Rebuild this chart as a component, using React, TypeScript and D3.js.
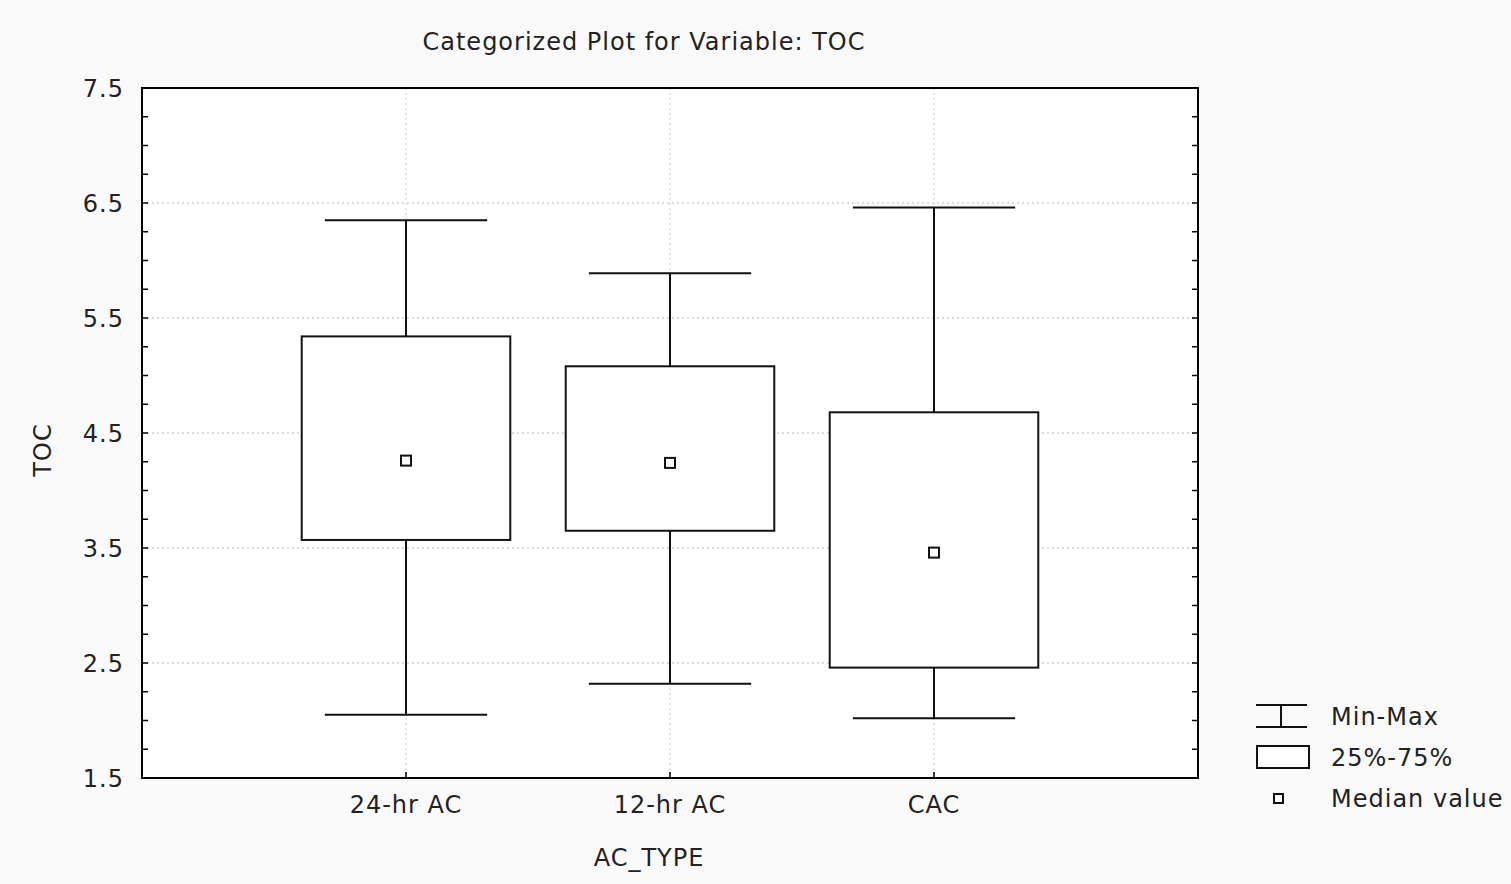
import React from "react";
import * as d3 from "d3";

const categories = ["24-hr AC", "12-hr AC", "CAC"];
const minValues = [2.05, 2.32, 2.02];
const q1Values = [3.57, 3.65, 2.46];
const medianValues = [4.26, 4.24, 3.46];
const q3Values = [5.34, 5.08, 4.68];
const maxValues = [6.35, 5.89, 6.46];
const yTicks = [1.5, 2.5, 3.5, 4.5, 5.5, 6.5, 7.5];

const W = 1511;
const H = 884;
const M = { left: 142, right: 1198, top: 88, bottom: 778 };
const FONT = "'DejaVu Sans', Verdana, sans-serif";
const FS = 24;
const LS = 1.0;

export default function App() {
  const x = d3.scaleLinear().domain([0, categories.length + 1]).range([M.left, M.right]);
  const y = d3.scaleLinear().domain([1.5, 7.5]).range([M.bottom, M.top]);
  const band = x(1) - x(0);
  const boxW = band * 0.79;
  const capW = band * 0.615;
  const minorTicks = d3.range(1.5, 7.5001, 0.25);
  const txt = { fontSize: FS, fill: "#222", letterSpacing: LS } as const;

  return (
    <svg
      width={W}
      height={H}
      style={{ position: "absolute", left: 0, top: 0, display: "block" }}
      fontFamily={FONT}
    >
      <rect x={0} y={0} width={W} height={H} fill="#fafafa" />
      <rect x={M.left} y={M.top} width={M.right - M.left} height={M.bottom - M.top} fill="#ffffff" />
      {yTicks.slice(1, -1).map((t) => (
        <line key={"gy" + t} x1={M.left} x2={M.right} y1={y(t)} y2={y(t)} stroke="#b8b8b8" strokeWidth={1} strokeDasharray="2,3" />
      ))}
      {categories.map((c, i) => (
        <line key={"gx" + c} x1={x(i + 1)} x2={x(i + 1)} y1={M.top} y2={M.bottom} stroke="#c8c8c8" strokeWidth={1} strokeDasharray="2,3" />
      ))}
      {minorTicks.map((t) => (
        <g key={"mt" + t}>
          <line x1={M.left} x2={M.left + 6} y1={y(t)} y2={y(t)} stroke="#000" strokeWidth={1.5} />
          <line x1={M.right} x2={M.right - 6} y1={y(t)} y2={y(t)} stroke="#000" strokeWidth={1.5} />
        </g>
      ))}
      {categories.map((c, i) => (
        <line key={"xt" + c} x1={x(i + 1)} x2={x(i + 1)} y1={M.bottom} y2={M.bottom - 6} stroke="#000" strokeWidth={1.5} />
      ))}
      {categories.map((c, i) => {
        const cx = x(i + 1);
        return (
          <g key={"b" + c} stroke="#111" strokeWidth={2} fill="none">
            <line x1={cx} x2={cx} y1={y(maxValues[i])} y2={y(q3Values[i])} />
            <line x1={cx} x2={cx} y1={y(q1Values[i])} y2={y(minValues[i])} />
            <line x1={cx - capW / 2} x2={cx + capW / 2} y1={y(maxValues[i])} y2={y(maxValues[i])} />
            <line x1={cx - capW / 2} x2={cx + capW / 2} y1={y(minValues[i])} y2={y(minValues[i])} />
            <rect x={cx - boxW / 2} y={y(q3Values[i])} width={boxW} height={y(q1Values[i]) - y(q3Values[i])} fill="#fff" />
            <rect x={cx - 5} y={y(medianValues[i]) - 5} width={10} height={10} fill="#fff" />
          </g>
        );
      })}
      <rect x={M.left} y={M.top} width={M.right - M.left} height={M.bottom - M.top} fill="none" stroke="#000" strokeWidth={2} />
      {yTicks.map((t) => (
        <text key={"yl" + t} x={M.left - 18} y={y(t)} dy="0.36em" textAnchor="end" {...txt}>
          {t.toFixed(1)}
        </text>
      ))}
      {categories.map((c, i) => (
        <text key={"xl" + c} x={x(i + 1)} y={813} textAnchor="middle" {...txt}>
          {c}
        </text>
      ))}
      <text x={644} y={50} textAnchor="middle" {...txt}>
        Categorized Plot for Variable: TOC
      </text>
      <text x={649} y={866} textAnchor="middle" {...txt}>
        AC_TYPE
      </text>
      <text transform={`translate(51,450) rotate(-90)`} textAnchor="middle" {...txt}>
        TOC
      </text>
      <g stroke="#111" strokeWidth={2} fill="none">
        <line x1={1256} x2={1307} y1={705} y2={705} />
        <line x1={1256} x2={1307} y1={727} y2={727} />
        <line x1={1281} x2={1281} y1={705} y2={727} />
        <rect x={1257} y={746} width={52} height={22} fill="#fff" />
        <rect x={1274} y={794} width={9} height={9} fill="#fff" />
      </g>
      <text x={1331} y={725} {...txt}>Min-Max</text>
      <text x={1331} y={766} {...txt}>25%-75%</text>
      <text x={1331} y={807} {...txt}>Median value</text>
    </svg>
  );
}
